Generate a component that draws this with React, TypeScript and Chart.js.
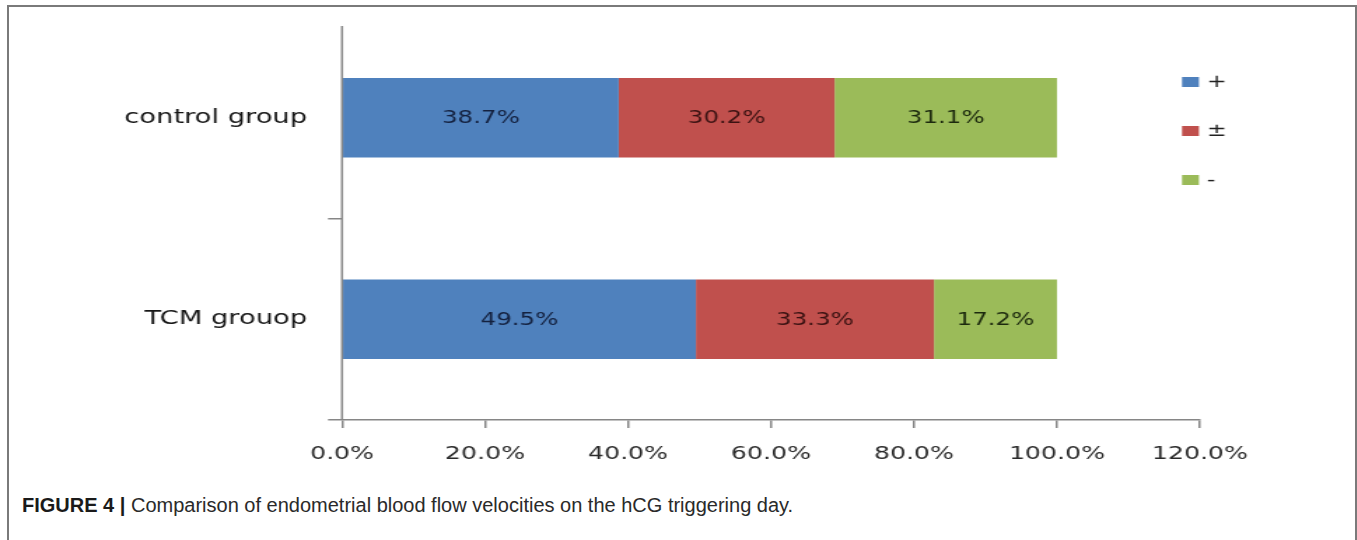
import React, { useEffect, useRef } from "react";
import { Chart, registerables } from "chart.js";

Chart.register(...registerables);

const categories = ["control group", "TCM grouop"];
const seriesLabels = ["+", "±", "-"];
const plusValues = [38.7, 49.5];
const plusMinusValues = [30.2, 33.3];
const minusValues = [31.1, 17.2];
const seriesColors = ["#4F81BD", "#C0504D", "#9BBB59"];
const labelColors = ["#14213f", "#3a1212", "#1c290e"];
const xMin = 0;
const xMax = 120;
const xStep = 20;

const STRETCH = 1.4;
const CW = 969;
const CH = 480;

const dataLabelPlugin = {
  id: "dataLabels",
  afterDatasetsDraw(chart: any) {
    const ctx = chart.ctx;
    ctx.save();
    ctx.font = "17.5px 'DejaVu Sans'";
    ctx.textAlign = "center";
    ctx.textBaseline = "middle";
    chart.data.datasets.forEach((ds: any, di: number) => {
      const meta = chart.getDatasetMeta(di);
      meta.data.forEach((el: any, i: number) => {
        const v = ds.data[i];
        ctx.fillStyle = labelColors[di];
        ctx.fillText(v.toFixed(1) + "%", (el.x + el.base) / 2, el.y + 1);
      });
    });
    ctx.restore();
  },
};

const axisLinePlugin = {
  id: "yAxisLine",
  afterDraw(chart: any) {
    const ctx = chart.ctx;
    const a = chart.chartArea;
    ctx.save();
    ctx.strokeStyle = "#868686";
    ctx.lineWidth = 1.5;
    ctx.beginPath();
    ctx.moveTo(a.left, a.top + 9);
    ctx.lineTo(a.left, a.bottom);
    ctx.stroke();
    ctx.restore();
  },
};

const legendPlugin = {
  id: "sideLegend",
  afterDraw(chart: any) {
    const ctx = chart.ctx;
    ctx.save();
    const boxX = 844.3;
    const boxW = 12.1;
    const boxH = 10;
    const textX = 862.0;
    const ys = [82, 131, 180];
    ctx.font = "17px 'DejaVu Sans'";
    ctx.textBaseline = "middle";
    ctx.textAlign = "left";
    chart.data.datasets.forEach((ds: any, i: number) => {
      ctx.fillStyle = ds.backgroundColor;
      ctx.fillRect(boxX, ys[i] - boxH / 2, boxW, boxH);
      ctx.fillStyle = "#222222";
      ctx.fillText(ds.label, textX, ys[i] + 1);
    });
    ctx.restore();
  },
};

function BarChart() {
  const ref = useRef<HTMLCanvasElement | null>(null);
  useEffect(() => {
    if (!ref.current) return;
    const valueSets = [plusValues, plusMinusValues, minusValues];
    const chart = new Chart(ref.current, {
      type: "bar",
      data: {
        labels: categories,
        datasets: seriesLabels.map((label, i) => ({
          label,
          data: valueSets[i],
          backgroundColor: seriesColors[i],
          borderWidth: 0,
          barPercentage: 0.395,
          categoryPercentage: 1.0,
        })),
      },
      options: {
        indexAxis: "y",
        responsive: false,
        animation: false,
        layout: { padding: { top: 17, right: 111.9, bottom: 0, left: 0 } },
        plugins: {
          legend: { display: false },
          tooltip: { enabled: false },
          title: { display: false },
        },
        scales: {
          x: {
            stacked: true,
            min: xMin,
            max: xMax,
            ticks: {
              stepSize: xStep,
              callback: (v: any) => Number(v).toFixed(1) + "%",
              font: { family: "'DejaVu Sans'", size: 18 },
              color: "#2a2a2a",
              padding: 16,
            },
            grid: {
              drawOnChartArea: false,
              drawTicks: true,
              tickLength: 8,
              color: "#868686",
              lineWidth: 1.5,
            },
            border: { color: "#868686", width: 1.5 },
            afterFit: (scale: any) => {
              scale.height = 60;
            },
          },
          y: {
            stacked: true,
            ticks: {
              font: { family: "'DejaVu Sans'", size: 19.5 },
              color: "#151515",
              padding: 15,
            },
            grid: {
              drawOnChartArea: false,
              drawTicks: true,
              tickLength: 10,
              offset: true,
              color: (c: any) => (c.index === 0 ? "rgba(0,0,0,0)" : "#868686"),
              lineWidth: 1.5,
            },
            border: { display: false },
            afterFit: (scale: any) => {
              scale.width = 244.3;
              scale.paddingTop = 0;
              scale.paddingBottom = 0;
            },
          },
        },
      },
      plugins: [dataLabelPlugin, legendPlugin, axisLinePlugin],
    } as any);
    return () => chart.destroy();
  }, []);
  return <canvas ref={ref} width={CW} height={CH} />;
}

export default function App() {
  return (
    <div>
      <div
        style={{
          position: "absolute",
          left: 7,
          top: 5,
          width: 1350,
          height: 535,
          boxSizing: "border-box",
          borderLeft: "2px solid #7a7a7a",
          borderTop: "2px solid #7a7a7a",
          borderRight: "2px solid #7a7a7a",
        }}
      />
      <div
        style={{
          position: "absolute",
          left: 0,
          top: 0,
          width: CW,
          height: CH,
          transform: `scaleX(${STRETCH})`,
          transformOrigin: "0 0",
        }}
      >
        <BarChart />
      </div>
      <div
        style={{
          position: "absolute",
          left: 22,
          top: 493,
          fontFamily: "'Liberation Sans', Arial, sans-serif",
          fontSize: 20,
          lineHeight: "24px",
          color: "#2a2a2a",
          whiteSpace: "nowrap",
        }}
      >
        <span style={{ fontWeight: "bold", color: "#1a1a1a" }}>FIGURE 4 | </span>
        Comparison of endometrial blood flow velocities on the hCG triggering day.
      </div>
    </div>
  );
}
